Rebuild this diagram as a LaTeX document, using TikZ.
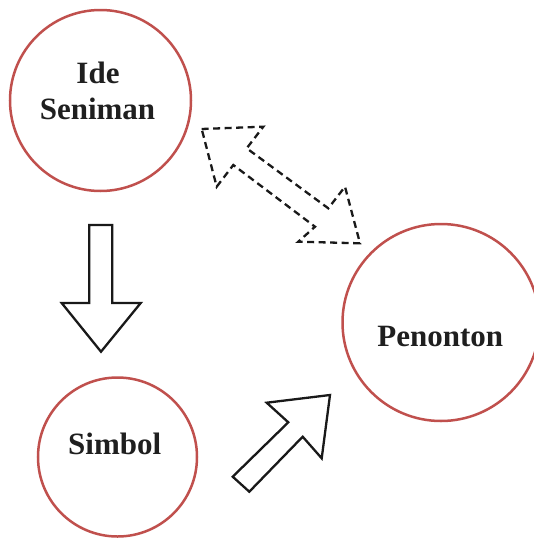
\documentclass[tikz,border=0pt]{standalone}
\usepackage{fontspec}
\setmainfont{Liberation Serif}
\definecolor{circred}{RGB}{192,80,77}
\begin{document}
\begin{tikzpicture}[x=1pt,y=-1pt,
  circ/.style={circle,draw=circred,line width=2.5pt,inner sep=0pt},
  lbl/.style={font=\bfseries\fontsize{31}{36}\selectfont,text=black!88,anchor=base,inner sep=0pt,align=center},
  blockarrow/.style={draw=black!90,line width=2.3pt,fill=white,line join=miter},
  dasharrow/.style={draw=black!90,line width=2.3pt,dash pattern=on 7pt off 4.5pt,line join=miter}]
\useasboundingbox (0,0) rectangle (534,539);
\node[circ,minimum size=181pt] (ide) at (100.5,100.5) {};
\node[circ,minimum size=197pt] (pen) at (441,322.5) {};
\node[circ,minimum size=159pt] (sim) at (117.5,457) {};
\node[lbl] (tide) at (98,83.3) {Ide};
\node[lbl] (tsen) at (97.5,119.3) {Seniman};
\node[lbl] (tpen) at (440.3,346) {Penonton};
\node[lbl] (tsim) at (114.7,454.3) {Simbol};
% down arrow
\draw[blockarrow] (89.3,225) -- (112.3,225) -- (112.3,303) -- (140.7,303)
  -- (101,351.7) -- (61.7,303) -- (89.3,303) -- cycle;
% diagonal arrow
\draw[blockarrow] (232.7,476.7) -- (288.3,422.3) -- (266.7,402.7) -- (330,395)
  -- (321.7,458.3) -- (302.7,436.7) -- (249.3,491.7) -- cycle;
% dashed double arrow
\draw[dasharrow] (201.7,129) -- (263.3,126.7) -- (246.7,148.3) -- (328.3,208.3)
  -- (345,186.7) -- (360,243.3) -- (298.3,241.7) -- (315,226.7)
  -- (233.3,165) -- (216.7,186.7) -- cycle;
\end{tikzpicture}
\end{document}
